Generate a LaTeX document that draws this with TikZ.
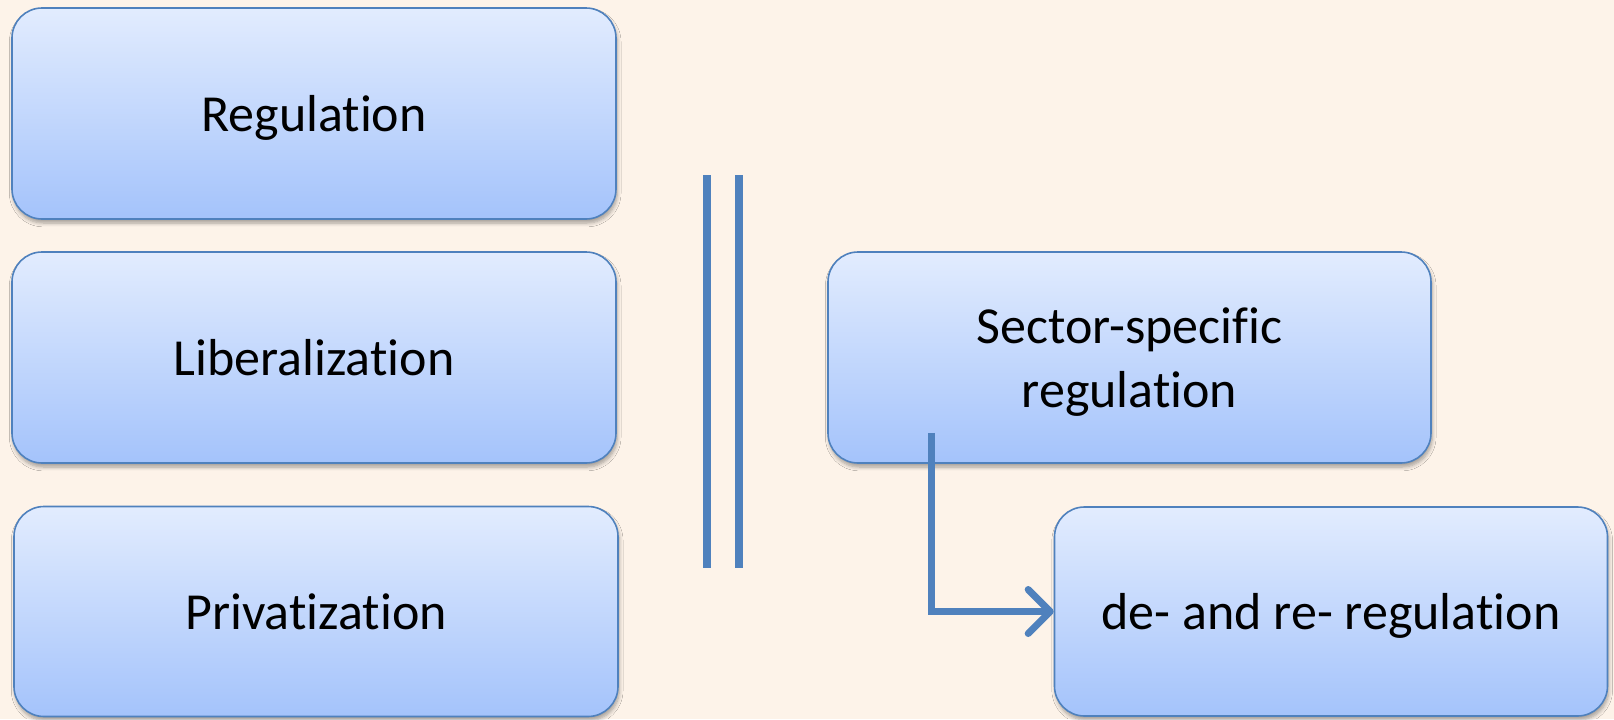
\documentclass[tikz,border=0pt]{standalone}
\usepackage{fontspec}
\setmainfont[Ligatures=NoCommon]{Carlito}
\usetikzlibrary{arrows.meta,shadows.blur}
\definecolor{bgcream}{RGB}{253,243,233}
\definecolor{boxtop}{RGB}{226,236,254}
\definecolor{boxbottom}{RGB}{164,195,251}
\definecolor{officeblue}{RGB}{79,129,189}
\tikzset{
  stage/.style={draw=officeblue, line width=0.8pt, rounded corners=15pt,
    top color=boxtop, bottom color=boxbottom, inner sep=0pt, text depth=0pt,
    align=center, font=\fontsize{26}{32}\selectfont,
    blur shadow={shadow xshift=0.6pt, shadow yshift=-2pt, shadow blur steps=6, shadow opacity=35}},
  bar/.style={officeblue, line width=4pt},
}
\begin{document}
\begin{tikzpicture}[x=0.5pt,y=-0.5pt]
  \fill[bgcream] (0,0) rectangle (1614,719);
  \useasboundingbox (0,0) rectangle (1614,719);
  % left column
  \node[stage, minimum width=302pt, minimum height=105.5pt] (reg) at (314,113.5) {Regulation};
  \node[stage, minimum width=302pt, minimum height=105.5pt] (lib) at (314,357.5) {Liberalization};
  \node[stage, minimum width=302pt, minimum height=105pt] (priv) at (316,611.5) {Privatization};
  % equals sign
  \coordinate (bartop) at (707,175);
  \coordinate (barbot) at (707,568);
  \draw[bar] (bartop) -- (barbot);
  \draw[bar] ([xshift=16pt]bartop) -- ([xshift=16pt]barbot);
  % right column
  \node[stage, minimum width=301.5pt, minimum height=105.5pt] (sector) at (1129.5,357.5) {Sector-specific\\regulation};
  \node[stage, minimum width=276.5pt, minimum height=104.5pt] (dere) at (1331,611.5) {de- and re- regulation};
  \coordinate (start) at ([xshift=52pt,yshift=15.5pt]sector.south west);
  \draw[officeblue, line width=3.5pt, -{Straight Barb[length=11pt,width=22pt,round]}] (start) |- (dere.west);
\end{tikzpicture}
\end{document}
